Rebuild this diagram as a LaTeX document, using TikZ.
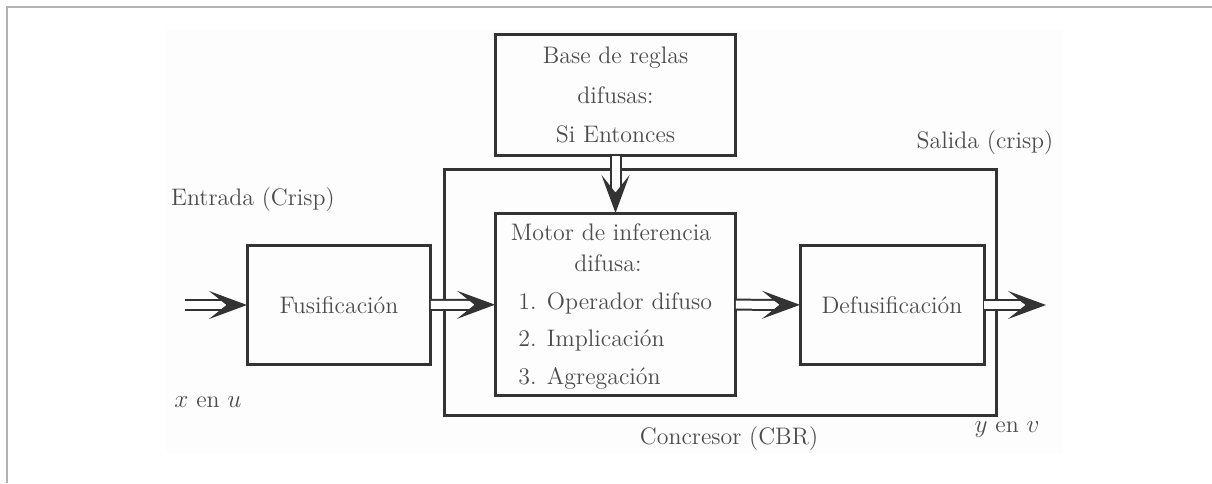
\documentclass[tikz,border=0pt]{standalone}
\usepackage{tikz}
\usetikzlibrary{arrows.meta, positioning}

\begin{document}
\begin{tikzpicture}[x=0.02cm, y=-0.02cm,
  block/.style={draw=black!80, line width=0.06cm, inner sep=0pt, outer sep=0pt},
  lbl/.style={text=black!70, font=\fontsize{13.6}{22.7}\selectfont, inner sep=0pt},
  flow/.style={draw=black!80, line width=0.04cm, double=white, double distance=0.16cm,
    -{Stealth[length=0.76cm, width=0.56cm, inset=0.35cm]}}]

    \useasboundingbox (0,0) rectangle (1212,483);
    \fill[black!0.8] (166,29) rectangle (1063,453);
    \draw[gray!60, line width=0.04cm] (7,483) -- (7,7) -- (1212,7);

    % bloques
    \node[block, minimum width=11.06cm, minimum height=4.94cm] (conc) at (720.5,292.5) {};
    \node[block, lbl, align=center, minimum width=4.82cm, minimum height=2.44cm] (base) at (615.5,95)
      {Base de reglas\\ difusas:\\ Si Entonces};
    \node[block, lbl, minimum width=3.68cm, minimum height=2.4cm] (fus) at (339,305) {Fusificación};
    \node[block, minimum width=4.82cm, minimum height=3.66cm] (mot) at (615.5,304.5) {};
    \node[block, lbl, minimum width=3.68cm, minimum height=2.4cm] (defus) at (892,305) {Defusificación};

    % texto del motor
    \node[lbl] (mot1) at (611,232) {Motor de inferencia};
    \node[lbl] (mot2) at (608,263) {difusa:};
    \node[lbl, anchor=west] (mot3) at (518,303) {1. Operador difuso};
    \node[lbl, anchor=west] (mot4) at (518,340) {2. Implicación};
    \node[lbl, anchor=west] (mot5) at (518,378) {3. Agregación};

    % etiquetas
    \node[lbl] (ent) at (253,200) {Entrada (Crisp)};
    \node[lbl] (sal) at (985,143) {Salida (crisp)};
    \node[lbl] (xu) at (208,402) {$x$ en $u$};
    \node[lbl] (yv) at (1007,430) {$y$ en $v$};
    \node[lbl] (cbr) at (729,439) {Concresor (CBR)};

    \coordinate (in) at (185,305);
    \coordinate (out) at (1046,305);

    % flechas
    \draw[flow] (in) -- (fus);
    \draw[flow] (fus) -- (mot);
    \draw[flow] (mot) -- (defus);
    \draw[flow] (defus) -- (out);
    \draw[flow] (base) -- (mot);

\end{tikzpicture}
\end{document}
